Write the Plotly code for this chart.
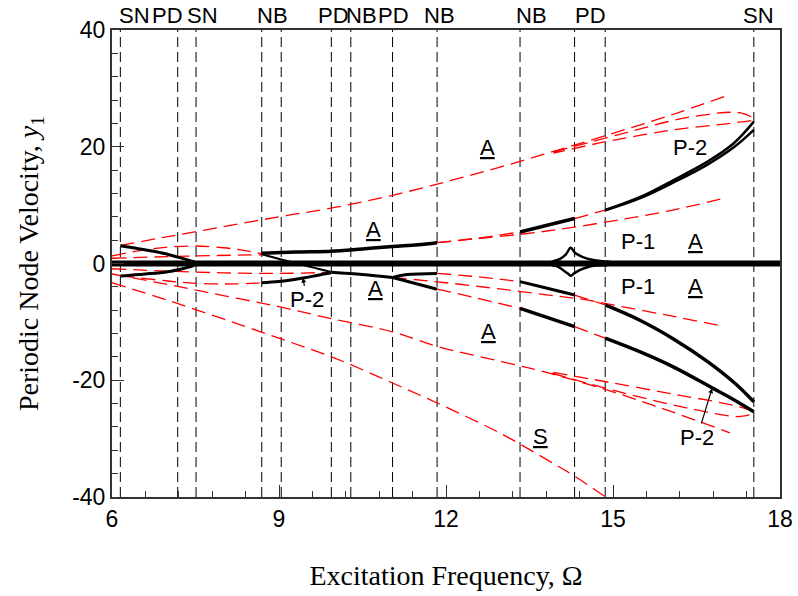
import plotly.graph_objects as go

# ---- bifurcation points (excitation frequency) ----
bif_x = [6.15, 7.18, 7.51, 8.69, 9.04, 9.94, 10.29, 11.04, 11.84, 13.33, 14.31, 14.86, 17.53]
top_labels = ["SN", "PD", "SN", "NB", "PD", "NB", "PD", "NB", "NB", "PD", "SN"]
top_label_x = [6.40, 7.00, 7.63, 8.89, 9.97, 10.49, 11.05, 11.89, 13.53, 14.59, 17.62]

# ---- axis ticks ----
x_tick_vals = [6, 9, 12, 15, 18]
y_tick_vals = [-40, -20, 0, 20, 40]
y_tick_text = ["-40", "-20", "0", "20", "40"]

# ---- stable branches (solid black) ----
p1_x = [6.0, 18.0]
p1_y = [0.0, 0.0]

bump_up_x = [13.9, 14.05, 14.15, 14.24, 14.32, 14.46, 14.6, 14.77, 14.95]
bump_up_y = [0.3, 0.8, 1.5, 2.7, 1.8, 1.1, 0.7, 0.45, 0.3]
bump_dn_x = [13.9, 14.0, 14.1, 14.2, 14.24, 14.3, 14.41, 14.55, 14.7, 14.9]
bump_dn_y = [-0.3, -0.5, -1.1, -1.8, -2.1, -1.7, -1.1, -0.6, -0.35, -0.3]

left_p2_up_x = [6.15, 6.5, 6.9, 7.18, 7.4, 7.51]
left_p2_up_y = [3.05, 2.5, 1.8, 1.1, 0.5, 0.2]
left_p2_dn_x = [6.15, 6.6, 7.0, 7.3, 7.45, 7.51]
left_p2_dn_y = [-2.14, -1.8, -1.4, -0.8, -0.4, -0.1]

upper_mid_x = [8.69, 9.3, 9.94, 10.5, 11.04, 11.5, 11.84]
upper_mid_y = [1.75, 1.95, 2.1, 2.5, 2.9, 3.2, 3.56]

cross_x = [8.69, 9.04, 9.43, 9.7, 9.94]
cross_y = [1.6, 0.7, -0.26, -0.9, -1.45]
lower_p2_x = [8.69, 9.0, 9.43, 9.7, 9.94]
lower_p2_y = [-3.3, -3.1, -2.5, -2.0, -1.6]

mid_low_x = [9.94, 10.5, 11.04]
mid_low_y = [-1.5, -1.9, -2.4]
split_a_x = [11.04, 11.3, 11.84]
split_a_y = [-2.4, -1.9, -1.7]
split_b_x = [11.04, 11.4, 11.84]
split_b_y = [-2.4, -3.3, -4.4]

right_up1_x = [13.33, 13.8, 14.31]
right_up1_y = [5.4, 6.5, 7.7]
right_up2a_x = [14.86, 15.49, 16.09, 16.69, 17.17, 17.53]
right_up2a_y = [9.16, 11.4, 14.3, 17.4, 20.6, 24.3]
right_up2b_x = [14.86, 15.49, 16.09, 16.69, 17.17, 17.53]
right_up2b_y = [9.1, 11.2, 13.9, 16.9, 19.9, 22.9]

right_lo1_x = [13.33, 13.8, 14.31]
right_lo1_y = [-3.1, -4.2, -5.4]
right_lo2_x = [14.86, 15.5, 16.1, 16.7, 17.2, 17.53]
right_lo2_y = [-7.1, -9.8, -13.0, -16.8, -20.6, -23.7]

right_lo3a_x = [13.33, 13.8, 14.31]
right_lo3a_y = [-7.7, -9.2, -10.8]
right_lo3b_x = [14.86, 15.5, 16.1, 16.78, 17.2, 17.53]
right_lo3b_y = [-12.8, -15.2, -17.8, -21.3, -23.5, -25.4]

# ---- unstable branches (dashed red) ----
arc_up_x = [6.15, 7, 8, 9, 10, 11, 12, 13, 14, 15, 16, 17.03]
arc_up_y = [3.1, 4.6, 6.3, 8.0, 9.6, 11.6, 14.0, 16.6, 19.4, 22.3, 25.3, 28.7]
arc_lo_x = [6.0, 7, 8, 9, 9.92, 11.04, 11.84, 13, 13.9, 15, 16, 17.1]
arc_lo_y = [-1.8, -3.6, -5.5, -7.4, -9.4, -11.7, -14.2, -16.8, -18.9, -22.0, -25.2, -29.0]
s_branch_x = [6.0, 7, 8, 9, 10, 11, 12, 13, 13.81, 14.32, 14.9]
s_branch_y = [-3.3, -6.3, -9.5, -12.8, -16.2, -20.3, -24.6, -29.2, -33.6, -36.5, -40.2]

small_arc_x = [6.0, 6.5, 7.0, 7.5, 8.0, 8.4, 8.69]
small_arc_y = [1.3, 2.2, 2.8, 3.0, 2.7, 2.2, 1.7]
near_up_x = [6.0, 7.5, 8.69]
near_up_y = [0.9, 1.3, 1.5]
near_dn_x = [6.0, 7.0, 8.0, 9.0, 9.94]
near_dn_y = [-0.9, -1.3, -1.6, -1.7, -1.5]
left_lo_x = [6.15, 7.0, 7.51, 8.2, 8.69]
left_lo_y = [-2.1, -3.0, -3.4, -3.5, -3.3]

link_up_x = [11.84, 12.6, 13.33]
link_up_y = [3.56, 4.4, 5.4]
ray_up_x = [11.84, 12.5, 13.33, 14.0, 15.0, 16.0, 17.0]
ray_up_y = [3.56, 4.2, 5.0, 5.8, 7.3, 9.0, 11.2]
link_lo1_x = [11.84, 12.6, 13.33]
link_lo1_y = [-1.7, -2.3, -3.1]
ray_lo_x = [11.04, 12.0, 13.0, 14.0, 14.5, 15.0, 16.0, 17.0]
ray_lo_y = [-2.4, -3.3, -4.4, -5.6, -6.2, -7.1, -8.9, -10.8]
link_lo2_x = [11.84, 12.5, 13.33]
link_lo2_y = [-4.4, -5.8, -7.7]

gap_up_x = [14.31, 14.86]
gap_up_y = [7.7, 9.16]
gap_lo1_x = [14.31, 14.86]
gap_lo1_y = [-5.4, -7.1]
gap_lo2_x = [14.31, 14.86]
gap_lo2_y = [-10.8, -12.8]

loop_up_x = [13.93, 15.19, 16.39, 17.29, 17.53, 17.17, 16.09, 14.89, 13.93]
loop_up_y = [19.1, 22.3, 25.1, 25.8, 24.7, 24.1, 22.9, 20.9, 18.9]
loop_lo_x = [13.9, 15.2, 16.4, 17.29, 17.53, 17.2, 16.1, 14.9, 13.9]
loop_lo_y = [-18.8, -22.2, -24.9, -26.2, -25.5, -24.4, -22.4, -20.3, -18.6]

stable = [
    (p1_x, p1_y, 6),
    (bump_up_x, bump_up_y, 2.5), (bump_dn_x, bump_dn_y, 2.5),
    (left_p2_up_x, left_p2_up_y, 3), (left_p2_dn_x, left_p2_dn_y, 3),
    (upper_mid_x, upper_mid_y, 3.5),
    (cross_x, cross_y, 2), (lower_p2_x, lower_p2_y, 3),
    (mid_low_x, mid_low_y, 3), (split_a_x, split_a_y, 3), (split_b_x, split_b_y, 3),
    (right_up1_x, right_up1_y, 3.5),
    (right_up2a_x, right_up2a_y, 2.5), (right_up2b_x, right_up2b_y, 2.5),
    (right_lo1_x, right_lo1_y, 3), (right_lo2_x, right_lo2_y, 3.5),
    (right_lo3a_x, right_lo3a_y, 3.5), (right_lo3b_x, right_lo3b_y, 3.5),
]
unstable = [
    (arc_up_x, arc_up_y), (arc_lo_x, arc_lo_y), (s_branch_x, s_branch_y),
    (small_arc_x, small_arc_y), (near_up_x, near_up_y), (near_dn_x, near_dn_y),
    (left_lo_x, left_lo_y),
    (link_up_x, link_up_y), (ray_up_x, ray_up_y),
    (link_lo1_x, link_lo1_y), (ray_lo_x, ray_lo_y), (link_lo2_x, link_lo2_y),
    (gap_up_x, gap_up_y), (gap_lo1_x, gap_lo1_y), (gap_lo2_x, gap_lo2_y),
    (loop_up_x, loop_up_y), (loop_lo_x, loop_lo_y),
]

SANS = "Liberation Sans, Arial, sans-serif"
SERIF = "Liberation Serif, Times New Roman, serif"
LABEL_FONT = dict(family=SANS, size=22, color="black")
TITLE_FONT = dict(family=SERIF, size=28, color="black")

fig = go.Figure()

# vertical bifurcation markers
for xv in bif_x:
    fig.add_trace(go.Scatter(x=[xv, xv], y=[-40, 40], mode="lines",
                             line=dict(color="black", width=1, dash="10px,5px"),
                             hoverinfo="skip"))

for xs, ys in unstable:
    fig.add_trace(go.Scatter(x=xs, y=ys, mode="lines", line_shape="spline",
                             line=dict(color="#ff0000", width=1.3, dash="14px,7px"),
                             hoverinfo="skip"))

for xs, ys, w in stable:
    fig.add_trace(go.Scatter(x=xs, y=ys, mode="lines", line_shape="spline",
                             line=dict(color="black", width=w),
                             hoverinfo="skip"))

ann = []
for t, xv in zip(top_labels, top_label_x):
    ann.append(dict(x=xv, y=1.0, xref="x", yref="paper", yanchor="bottom",
                    text=t, showarrow=False, font=LABEL_FONT))

region_labels = [
    ("<u>A</u>", 12.75, 19.95), ("<u>A</u>", 10.70, 5.74), ("<u>A</u>", 10.74, -4.2),
    ("<u>A</u>", 12.77, -11.7), ("<u>A</u>", 16.48, 3.7), ("<u>A</u>", 16.48, -4.0),
    ("P-1", 15.45, 3.7), ("P-1", 15.45, -4.0), ("P-2", 16.39, 19.8),
    ("<u>S</u>", 13.70, -29.7),
]
for t, xv, yv in region_labels:
    ann.append(dict(x=xv, y=yv, text=t, showarrow=False, font=LABEL_FONT))

# P-2 labels with pointers to their branches
ann.append(dict(x=9.43, y=-2.45, ax=4, ay=22, text="P-2", showarrow=True,
                arrowhead=2, arrowsize=0.8, arrowwidth=1.2, arrowcolor="black",
                standoff=0, font=LABEL_FONT))
ann.append(dict(x=16.78, y=-21.4, ax=-15, ay=49, text="P-2", showarrow=True,
                arrowhead=2, arrowsize=0.8, arrowwidth=1.2, arrowcolor="black",
                standoff=0, font=LABEL_FONT))

axis_common = dict(showgrid=False, zeroline=False, showline=True, mirror=True,
                   linecolor="#333333", linewidth=2, ticks="inside",
                   tickcolor="#333333", tickwidth=1.2, ticklen=12,
                   tickfont=dict(family=SANS, size=23, color="black"))

fig.update_layout(
    width=798, height=596,
    margin=dict(l=112, r=18, t=30, b=99, autoexpand=False),
    paper_bgcolor="white", plot_bgcolor="white",
    showlegend=False,
    annotations=ann,
    xaxis=dict(range=[6, 18], tickmode="array", tickvals=x_tick_vals,
               title=dict(text="Excitation Frequency, Ω", font=TITLE_FONT, standoff=35),
               automargin=False,
               minor=dict(tick0=6, dtick=0.6, ticks="inside", ticklen=6,
                          tickcolor="#333333", showgrid=False),
               **axis_common),
    yaxis=dict(range=[-40, 40], tickmode="array", tickvals=y_tick_vals, ticktext=y_tick_text,
               title=dict(text="Periodic Node Velocity, <i>y</i><sub>1</sub>",
                          font=TITLE_FONT, standoff=25),
               automargin=False,
               minor=dict(tick0=-40, dtick=4, ticks="inside", ticklen=6,
                          tickcolor="#333333", showgrid=False),
               **axis_common),
)

fig.write_html("out.html")
